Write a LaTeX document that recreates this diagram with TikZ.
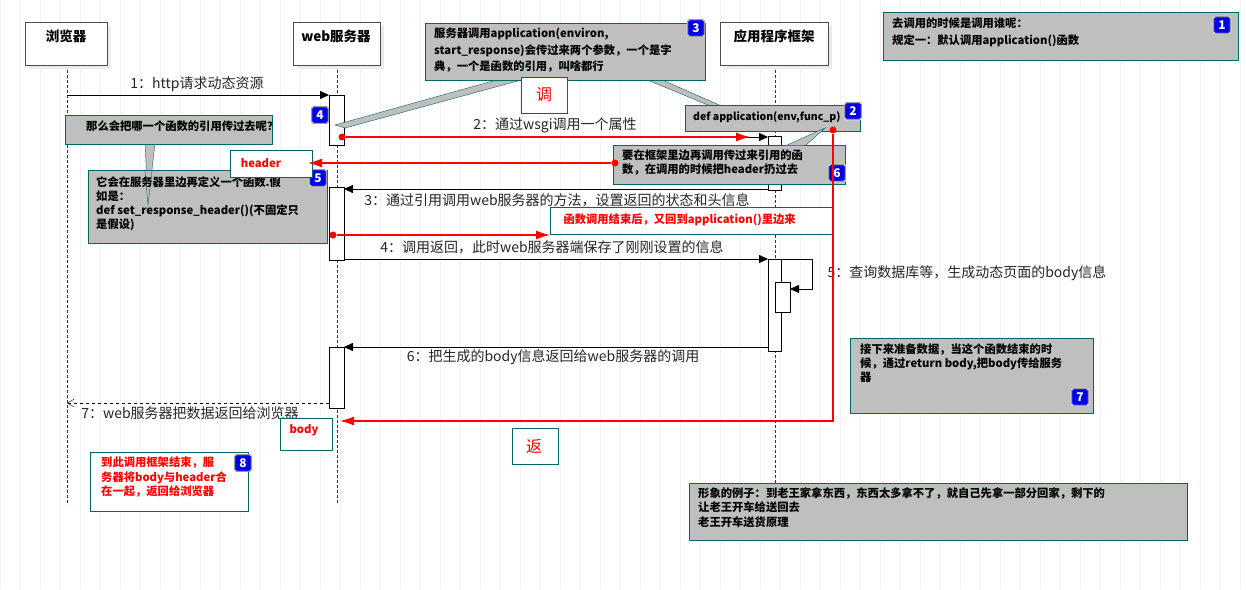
\documentclass[tikz,border=0pt]{standalone}
\usepackage{fontspec}
\setmainfont{Noto Sans CJK SC}
\usetikzlibrary{arrows.meta}
\begin{document}
\begin{tikzpicture}[x=1pt,y=-1pt,
  font=\fontsize{13.5}{15}\selectfont,
  head/.style={draw=black!70,fill=white,line width=0.8pt,anchor=north west,inner sep=0pt},
  life/.style={densely dashed,black!80},
  act/.style={draw=black,fill=white},
  msg/.style={-{Triangle[length=9pt,width=8pt]},black},
  lbl/.style={font=\fontsize{14}{15}\selectfont,text=black!85},
  note/.style={draw=teal!80!black,fill=black!25,line width=0.6pt},
  ntext/.style={anchor=north west,align=left,font=\bfseries\fontsize{11.3}{16.5}\selectfont,inner sep=0pt},
  rbox/.style={draw=teal!80!black,fill=white,line width=0.6pt},
  rtext/.style={text=red,font=\bfseries\fontsize{11.3}{16.5}\selectfont},
  badge/.style={draw=white,double=black!40,fill=blue!90!black,text=white,rounded corners=2pt,minimum size=17pt,inner sep=0pt,font=\bfseries\fontsize{12}{12}\selectfont},
  rarr/.style={red,line width=1.3pt,-{Latex[length=14pt,width=9pt]}},
  rdot/.style={circle,fill=red,inner sep=0pt,minimum size=7pt}]
\useasboundingbox (0,0) rectangle (1246,589);
\fill[white] (0,0) rectangle (1246,589);
\draw[black!5,step=20] (0,0) grid (1246,589);
% lifelines
\draw[life] (67,65) -- (67,505);
\draw[life] (337,65) -- (337,505);
\draw[life] (775,65) -- (775,505);
% heads
\fill[black!8] (29,26) rectangle (111,69);
\node[head,minimum width=82pt,minimum height=43pt] (hb) at (25,22) {};
\node[anchor=north] at (66,26) {\bfseries 浏览器};
\fill[black!8] (297,26) rectangle (384,69);
\node[head,minimum width=87pt,minimum height=43pt] (hw) at (293,22) {};
\node[anchor=north] at (336,26) {\bfseries web服务器};
\fill[black!8] (724,26) rectangle (832,69);
\node[head,minimum width=108pt,minimum height=43pt] (ha) at (720,22) {};
\node[anchor=north] at (774,26) {\bfseries 应用程序框架};
% activations
\draw[act] (329,95) rectangle (344,145);
\draw[act] (768,136) rectangle (781,190);
\draw[act] (329,187) rectangle (344,260);
\draw[act] (768,259) rectangle (781,351);
\draw[act] (775,282) rectangle (790,312);
\draw[act] (329,347) rectangle (344,408);
% messages
\coordinate (m1a) at (67,95); \coordinate (m1b) at (329,95);
\draw[msg] (m1a) -- (m1b);
\node[lbl] at (197,84) {1：http请求动态资源};
\coordinate (m2a) at (344,137); \coordinate (m2b) at (768,137);
\draw[msg] (m2a) -- (m2b);
\node[lbl] at (555,125) {2：通过wsgi调用一个属性};
\coordinate (m3a) at (768,189); \coordinate (m3b) at (344,189);
\draw[msg] (m3a) -- (m3b);
\node[lbl] at (557,200) {3：通过引用调用web服务器的方法，设置返回的状态和头信息};
\coordinate (m4a) at (344,259); \coordinate (m4b) at (768,259);
\draw[msg] (m4a) -- (m4b);
\node[lbl] at (552,247) {4：调用返回，此时web服务器端保存了刚刚设置的信息};
\coordinate (m5a) at (781,259); \coordinate (m5b) at (790,289);
\draw[msg] (m5a) -- (812,259) -- (812,289) -- (m5b);
\node[lbl,anchor=west] at (824,273) {5：查询数据库等，生成动态页面的body信息};
\coordinate (m6a) at (768,347); \coordinate (m6b) at (344,347);
\draw[msg] (m6a) -- (m6b);
\node[lbl] at (553,357) {6：把生成的body信息返回给web服务器的调用};
\coordinate (m7a) at (329,403); \coordinate (m7b) at (67,403);
\draw[dashed,-{Straight Barb[length=7pt,width=8pt]}] (m7a) -- (m7b);
\node[lbl] at (190,413) {7：web服务器把数据返回给浏览器};
% callout tails
\fill[black!25,draw=teal!80!black] (500,79) -- (525,79) -- (345,128) -- (335,125) -- cycle;
\fill[black!25,draw=teal!80!black] (645,79) -- (660,79) -- (735,112) -- (725,112) -- cycle;
% note 3
\node[note,anchor=north west,minimum width=280pt,minimum height=57pt] (n3) at (425,23) {};
\node[ntext] at (434,28) {服务器调用application(environ,\\start\_response)会传过来两个参数，一个是字\\典，一个是函数的引用，叫啥都行};
\node[badge] (b3) at (696,28) {3};
% note 4
\fill[black!25,draw=teal!80!black] (145,143) -- (155,143) -- (148,205) -- cycle;
\node[note,anchor=north west,minimum width=207pt,minimum height=29pt] (n4) at (65,115) {};
\node[ntext] at (86,121) {那么会把哪一个函数的引用传过去呢？};
\node[badge] (b4) at (320,115) {4};
% note 5
\node[note,anchor=north west,minimum width=239pt,minimum height=73pt] (n5) at (88,170) {};
\fill[black!25] (145,171) -- (152,171) -- (148,205) -- cycle;
\draw[teal!80!black] (145,171) -- (148,205) -- (152,171);
\node[ntext,font=\bfseries\fontsize{11.3}{14}\selectfont] at (96,176) {它会在服务器里边再定义一个函数.假\\如是：\\def set\_response\_header()(不固定只\\是假设)};
\node[badge] (b5) at (318,178) {5};
% app note
\node[note,anchor=north west,minimum width=175pt,minimum height=26pt] (n2) at (685,105) {};
\node[ntext,font=\bfseries\fontsize{10.5}{14}\selectfont] at (693,111) {def application(env,func\_p)};
\node[badge] (b2) at (853,111) {2};
% note 6
\fill[black!25,draw=teal!80!black] (785,146) -- (805,146) -- (825,128) -- cycle;
\node[note,anchor=north west,minimum width=232pt,minimum height=39pt] (n6) at (613,145) {};
\fill[black!25] (786,145.5) -- (804,145.5) -- (805,150) -- (786,150) -- cycle;
\node[ntext,font=\bfseries\fontsize{11.3}{14}\selectfont] at (622,150) {要在框架里边再调用传过来引用的函\\数，在调用的时候把header扔过去};
\node[badge] (b6) at (837,173) {6};
% note 1
\node[note,anchor=north west,minimum width=355pt,minimum height=48pt] (n1) at (883,12) {};
\node[ntext] at (892,18) {去调用的时候是调用谁呢：\\规定一：默认调用application()函数};
\node[badge] (b1) at (1222,25) {1};
% note 7
\node[note,anchor=north west,minimum width=243pt,minimum height=75pt] (n7) at (850,338) {};
\node[ntext,font=\bfseries\fontsize{11.3}{14}\selectfont] at (860,344) {接下来准备数据，当这个函数结束的时\\候，通过return body,把body传给服务\\器};
\node[badge] (b7) at (1080,397) {7};
% bottom note
\node[note,anchor=north west,minimum width=498pt,minimum height=57pt] (nb) at (689,483) {};
\node[ntext,font=\bfseries\fontsize{11.3}{14.5}\selectfont] at (698,487) {形象的例子：到老王家拿东西，东西太多拿不了，就自己先拿一部分回家，剩下的\\让老王开车给送回去\\老王开车送货原理};
% red boxes
\node[rbox,anchor=north west,minimum width=46pt,minimum height=36pt] (rt) at (521,77) {};
\node[text=red,font=\fontsize{16}{16}\selectfont] at (544,95) {调};
\node[rbox,anchor=north west,minimum width=82pt,minimum height=27pt] (rh) at (230,150) {};
\node[rtext] at (261,163) {header};
\node[rbox,anchor=north west,minimum width=283pt,minimum height=27pt] (rf) at (550,207) {};
\node[rtext,anchor=west] at (560,220) {函数调用结束后，又回到application()里边来};
\node[rbox,anchor=north west,minimum width=52pt,minimum height=32pt] (rb) at (280,418) {};
\node[rtext] at (304,430) {body};
\node[rbox,anchor=north west,minimum width=46pt,minimum height=36pt] (rr) at (512,428) {};
\node[text=red,font=\fontsize{16}{16}\selectfont] at (534,446) {返};
\node[rbox,anchor=north west,minimum width=158pt,minimum height=59pt] (r8) at (90,452) {};
\node[rtext,anchor=north west,align=left,inner sep=0pt,font=\bfseries\fontsize{11.3}{14.5}\selectfont] at (101,457) {到此调用框架结束，服\\务器将body与header合\\在一起，返回给浏览器};
\node[badge] (b8) at (243,463) {8};
% red arrows
\node[rdot] (d1) at (342,137) {}; \coordinate (e1) at (750,137);
\draw[rarr] (d1) -- (e1);
\node[rdot] (d2) at (615,163) {}; \coordinate (e2) at (308,163);
\draw[rarr] (d2) -- (e2);
\node[rdot] (d3) at (333,235) {}; \coordinate (e3) at (550,235);
\draw[rarr] (d3) -- (e3);
\node[rdot] (d4) at (833,130) {}; \coordinate (e4) at (340,421);
\draw[rarr] (d4) -- (833,421) -- (e4);
\end{tikzpicture}
\end{document}
